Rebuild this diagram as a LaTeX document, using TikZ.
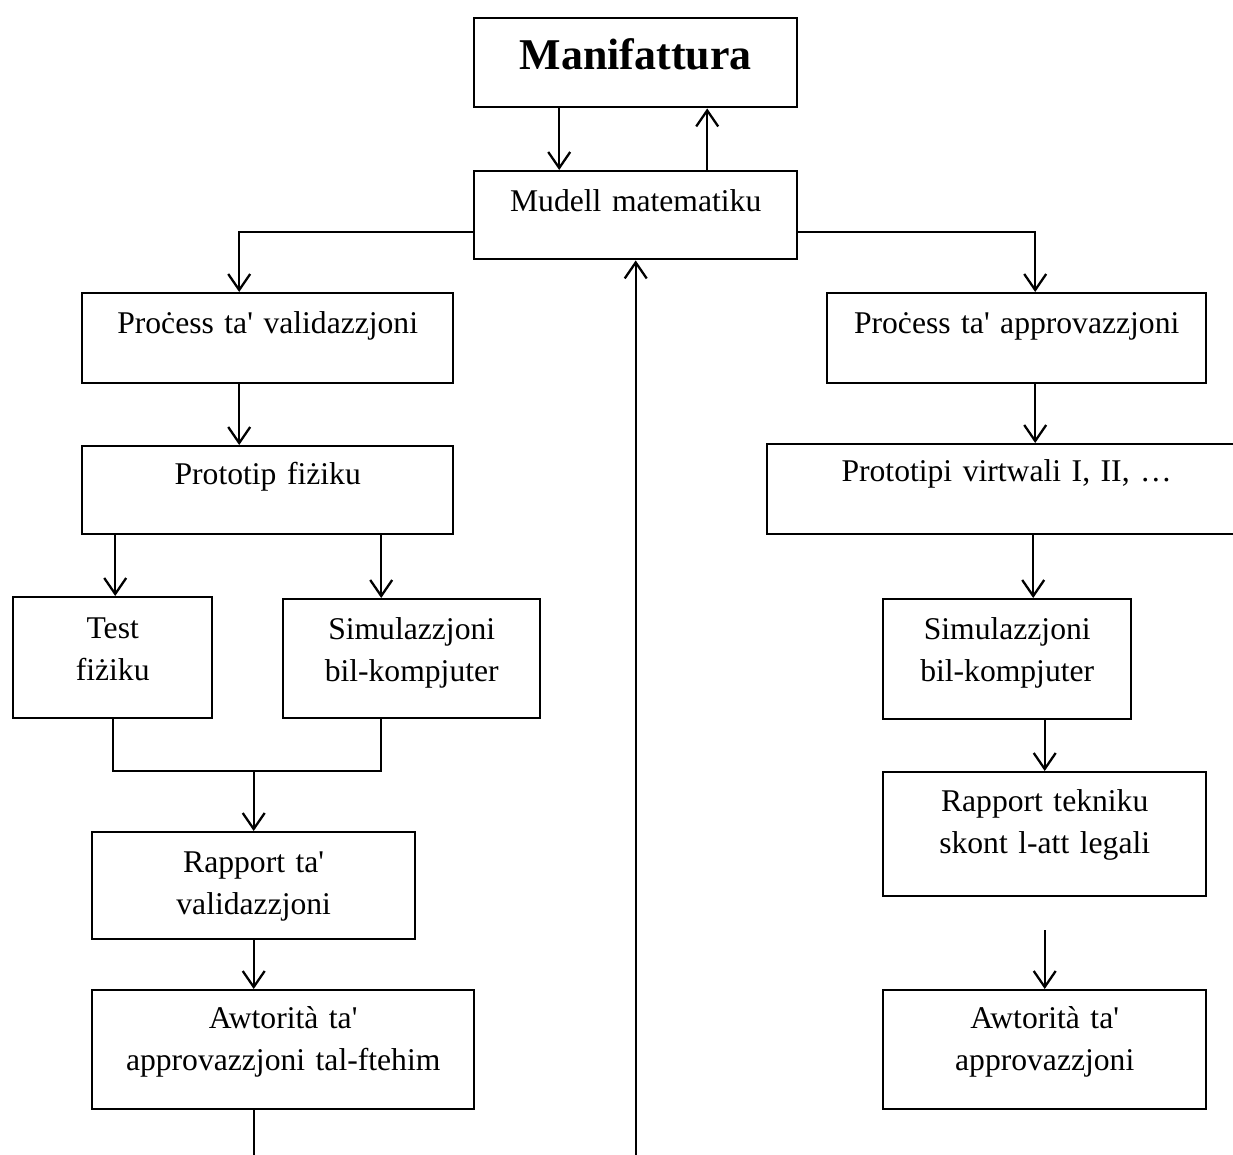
\documentclass[tikz,border=0pt]{standalone}
\usepackage{fontspec}
\setmainfont{Liberation Serif}
\usetikzlibrary{positioning,arrows.meta,calc}
\newcommand{\apos}{\textquotesingle}

\begin{document}
\begin{tikzpicture}[
      x=0.02cm, y=-0.02cm,
      font=\fontsize{18}{24}\selectfont,
      blk/.style n args={3}{draw, line width=1.4pt, anchor=north west,
                    inner sep=0pt, align=center,
                    text width=#1, text height=#2, text depth=#3},
      flow/.style={-{Straight Barb[length=3.2mm,width=4.4mm]}, line width=1.3pt},
      link/.style={line width=1.3pt}
    ]
    \useasboundingbox (0,0) rectangle (1233,1155);

    % top of the chart
    \node[blk={6.46cm}{1.02cm}{0.76cm}, font=\fontsize{25}{30}\selectfont\bfseries]
      (manif) at (473,17) {Manifattura};
    \node[blk={6.46cm}{0.80cm}{0.96cm}] (model) at (473,170) {Mudell matematiku};

    % validation branch
    \node[blk={7.42cm}{0.80cm}{1.00cm}] (valproc) at (81,292) {Proċess ta\apos{} validazzjoni};
    \node[blk={7.42cm}{0.76cm}{1.00cm}] (physproto) at (81,445) {Prototip fiżiku};
    \node[blk={3.98cm}{0.82cm}{1.60cm}] (phystest) at (12,596) {Test\\fiżiku};
    \node[blk={5.14cm}{0.80cm}{1.58cm}] (simL) at (282,598) {Simulazzjoni\\bil-kompjuter};
    \node[blk={6.46cm}{0.80cm}{1.34cm}] (valrep) at (91,831) {Rapport ta\apos\\validazzjoni};
    \node[blk={7.64cm}{0.76cm}{1.62cm}] (agreement) at (91,989)
      {Awtorità ta\apos\\approvazzjoni tal-ftehim};

    % approval branch
    \node[blk={7.58cm}{0.80cm}{1.00cm}] (approc) at (826,292) {Proċess ta\apos{} approvazzjoni};
    \node[blk={9.58cm}{0.74cm}{1.06cm}] (virtproto) at (766,443) {Prototipi virtwali I, II, …};
    \node[blk={4.96cm}{0.80cm}{1.60cm}] (simR) at (882,598) {Simulazzjoni\\bil-kompjuter};
    \node[blk={6.46cm}{0.78cm}{1.70cm}] (techrep) at (882,771) {Rapport tekniku\\skont l-att legali};
    \node[blk={6.46cm}{0.76cm}{1.62cm}] (authR) at (882,989) {Awtorità ta\apos\\approvazzjoni};

    \coordinate (simtop) at ([xshift=-0.61cm]simL.north);
    \coordinate (simbot) at ([xshift=-0.61cm]simL.south);
    \coordinate (join) at ([yshift=1.20cm]valrep.north);
    \coordinate (outL) at (valrep.south |- 0,1160);
    \coordinate (feed) at (model.south |- 0,1160);

    \draw[flow] ([xshift=-1.53cm]manif.south) -- ([xshift=-1.53cm]model.north);
    \draw[flow] ([xshift=1.43cm]model.north) -- ([xshift=1.43cm]manif.south);

    \draw[flow] ([yshift=-0.34cm]model.west) -| ([xshift=-0.57cm]valproc.north);
    \draw[flow] ([xshift=-0.57cm]valproc.south) -- ([xshift=-0.57cm]physproto.north);
    \draw[flow] ([xshift=0.05cm]physproto.south -| phystest.north) -- ([xshift=0.05cm]phystest.north);
    \draw[flow] (physproto.south -| simtop) -- (simtop);
    \draw[link] (phystest.south) |- (join) -| (simbot);
    \draw[flow] (join) -- (valrep.north);
    \draw[flow] (valrep.south) -- (valrep.south |- agreement.north);
    \draw[link] (agreement.south -| outL) -- (outL);
    \draw[flow] (feed) -- (model.south);

    \draw[flow] ([yshift=-0.34cm]model.east) -| ([xshift=0.37cm]approc.north);
    \draw[flow] ([xshift=0.37cm]approc.south) -- ([xshift=0.37cm]approc.south |- virtproto.north);
    \draw[flow] ([xshift=0.52cm]simR.north |- virtproto.south) -- ([xshift=0.52cm]simR.north);
    \draw[flow] (simR.south -| techrep.north) -- (techrep.north);
    \draw[flow] ([yshift=-0.66cm]techrep.south) -- (authR.north);

  \end{tikzpicture}
\end{document}
